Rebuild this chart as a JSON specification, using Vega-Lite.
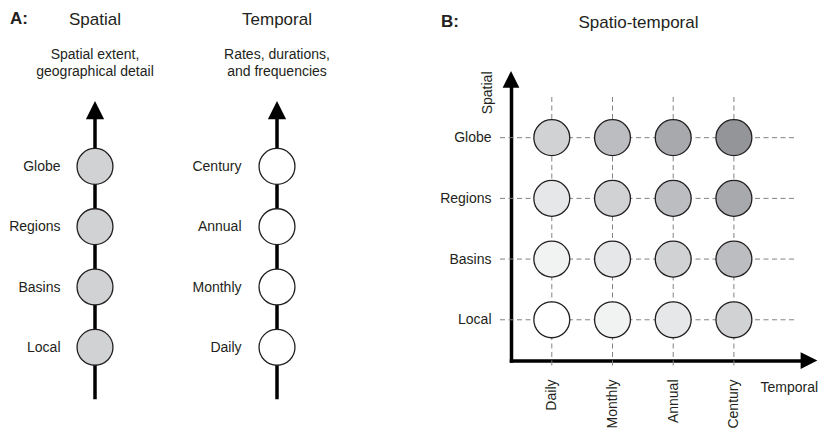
{
  "$schema": "https://vega.github.io/schema/vega-lite/v6.json",
  "padding": {"left": 5, "top": 9, "right": 0, "bottom": 0},
  "background": "#ffffff",
  "config": {
    "font": "Liberation Sans",
    "view": {"stroke": null},
    "title": {"fontSize": 17, "fontWeight": "normal", "color": "#231f20", "subtitleFontSize": 14, "subtitleColor": "#231f20", "subtitleLineHeight": 17, "subtitleFont": "Liberation Sans"},
    "axis": {"labelFontSize": 14, "labelColor": "#231f20", "ticks": false, "tickSize": 0, "grid": false, "domain": false, "titleFontSize": 14, "titleColor": "#231f20", "titleFontWeight": "normal"}
  },
  "spacing": 70,
  "hconcat": [
    {
      "title": {"text": "A:", "anchor": "start", "fontWeight": "bold", "offset": -17, "dx": 5},
      "spacing": 0,
      "hconcat": [
        {
          "width": 180,
          "height": 322.6,
          "title": {"text": "Spatial", "subtitle": ["Spatial extent,", "geographical detail"], "anchor": "middle", "frame": "group", "offset": 5.2, "subtitlePadding": 19.3},
          "layer": [
            {
              "data": {"values": [{"from": "top", "to": "bottom"}]},
              "mark": {"type": "rule", "strokeWidth": 3.5, "color": "#000000", "y2Offset": -8.3},
              "encoding": {
                "y": {"field": "from", "type": "nominal", "scale": {"type": "point", "domain": ["top", "Globe", "Regions", "Basins", "Local", "bottom"], "padding": 0.175, "align": 1}, "axis": {"orient": "left", "values": ["Globe", "Regions", "Basins", "Local"], "offset": -69, "labelPadding": 14, "title": null}},
                "y2": {"field": "to"}
              }
            },
            {
              "data": {"values": [{"level": "Globe"}, {"level": "Regions"}, {"level": "Basins"}, {"level": "Local"}]},
              "mark": {"type": "circle", "size": 1290, "fill": "#d1d2d4", "stroke": "#231f20", "strokeWidth": 1.3, "opacity": 1},
              "encoding": {"y": {"field": "level", "type": "nominal"}}
            },
            {
              "data": {"values": [{"level": "top"}]},
              "mark": {"type": "point", "shape": "M0,-1L-1,1L1,1Z", "size": 335, "filled": true, "color": "#000000", "opacity": 1, "yOffset": 4},
              "encoding": {"y": {"field": "level", "type": "nominal"}}
            }
          ]
        },
        {
          "width": 184,
          "height": 322.6,
          "title": {"text": "Temporal", "subtitle": ["Rates, durations,", "and frequencies"], "anchor": "middle", "frame": "group", "offset": 5.2, "subtitlePadding": 19.3},
          "layer": [
            {
              "data": {"values": [{"from": "top", "to": "bottom"}]},
              "mark": {"type": "rule", "strokeWidth": 3.5, "color": "#000000", "y2Offset": -8.3},
              "encoding": {
                "y": {"field": "from", "type": "nominal", "scale": {"type": "point", "domain": ["top", "Century", "Annual", "Monthly", "Daily", "bottom"], "padding": 0.175, "align": 1}, "axis": {"orient": "left", "values": ["Century", "Annual", "Monthly", "Daily"], "offset": -71, "labelPadding": 15, "title": null}},
                "y2": {"field": "to"}
              }
            },
            {
              "data": {"values": [{"level": "Century"}, {"level": "Annual"}, {"level": "Monthly"}, {"level": "Daily"}]},
              "mark": {"type": "circle", "size": 1290, "fill": "#ffffff", "stroke": "#231f20", "strokeWidth": 1.3, "opacity": 1},
              "encoding": {"y": {"field": "level", "type": "nominal"}}
            },
            {
              "data": {"values": [{"level": "top"}]},
              "mark": {"type": "point", "shape": "M0,-1L-1,1L1,1Z", "size": 335, "filled": true, "color": "#000000", "opacity": 1, "yOffset": 4},
              "encoding": {"y": {"field": "level", "type": "nominal"}}
            }
          ]
        }
      ]
    },
    {
      "title": {"text": "B:", "anchor": "start", "fontWeight": "bold", "offset": -17, "dx": 1.4},
      "hconcat": [
        {
          "width": 294,
          "height": 275.5,
          "title": {"text": "Spatio-temporal", "anchor": "middle", "frame": "group", "dx": -19.5, "offset": 39},
          "layer": [
            {
              "data": {"values": [{"spatial": "Globe"}, {"spatial": "Regions"}, {"spatial": "Basins"}, {"spatial": "Local"}]},
              "mark": {"type": "rule", "strokeDash": [5, 3.5], "color": "#808285", "strokeWidth": 1, "xOffset": -51.8},
              "encoding": {
                "y": {"field": "spatial", "type": "nominal", "scale": {"type": "point", "domain": ["Globe", "Regions", "Basins", "Local"], "padding": 0.7694, "align": 0.564}, "axis": {"orient": "left", "domain": true, "domainWidth": 3.5, "domainColor": "#000000", "domainCap": "square", "labelPadding": 20, "title": "Spatial", "titleAngle": 270, "titleX": -20, "titleY": -14, "titleAlign": "right", "titleBaseline": "alphabetic"}},
                "x": {"datum": "Daily", "type": "nominal", "scale": {"type": "point", "domain": ["Daily", "Monthly", "Annual", "Century", "end"], "padding": 0.4217, "align": 0.797}, "axis": {"orient": "bottom", "values": ["Daily", "Monthly", "Annual", "Century"], "domain": true, "domainWidth": 3.5, "domainColor": "#000000", "domainCap": "square", "labelAngle": 270, "labelPadding": 18.5, "title": "Temporal", "titleAngle": 0, "titleX": 249, "titleY": 30.5, "titleAlign": "left", "titleBaseline": "alphabetic"}},
                "x2": {"datum": "end"}
              }
            },
            {
              "data": {"values": [{"temporal": "Daily"}, {"temporal": "Monthly"}, {"temporal": "Annual"}, {"temporal": "Century"}]},
              "mark": {"type": "rule", "strokeDash": [5, 3.5], "color": "#808285", "strokeWidth": 1, "yOffset": -40.7, "y2Offset": 47.3},
              "encoding": {
                "x": {"field": "temporal", "type": "nominal"},
                "y": {"datum": "Globe", "type": "nominal"},
                "y2": {"datum": "Local"}
              }
            },
            {
              "data": {"values": [
                {"spatial": "Globe", "temporal": "Daily", "scale": 3},
                {"spatial": "Globe", "temporal": "Monthly", "scale": 4},
                {"spatial": "Globe", "temporal": "Annual", "scale": 5},
                {"spatial": "Globe", "temporal": "Century", "scale": 6},
                {"spatial": "Regions", "temporal": "Daily", "scale": 2},
                {"spatial": "Regions", "temporal": "Monthly", "scale": 3},
                {"spatial": "Regions", "temporal": "Annual", "scale": 4},
                {"spatial": "Regions", "temporal": "Century", "scale": 5},
                {"spatial": "Basins", "temporal": "Daily", "scale": 1},
                {"spatial": "Basins", "temporal": "Monthly", "scale": 2},
                {"spatial": "Basins", "temporal": "Annual", "scale": 3},
                {"spatial": "Basins", "temporal": "Century", "scale": 4},
                {"spatial": "Local", "temporal": "Daily", "scale": 0},
                {"spatial": "Local", "temporal": "Monthly", "scale": 1},
                {"spatial": "Local", "temporal": "Annual", "scale": 2},
                {"spatial": "Local", "temporal": "Century", "scale": 3}
              ]},
              "mark": {"type": "circle", "size": 1290, "stroke": "#231f20", "strokeWidth": 1.3, "opacity": 1},
              "encoding": {
                "x": {"field": "temporal", "type": "nominal"},
                "y": {"field": "spatial", "type": "nominal"},
                "fill": {"field": "scale", "type": "ordinal", "scale": {"domain": [0, 1, 2, 3, 4, 5, 6], "range": ["#ffffff", "#f1f2f2", "#e6e7e8", "#d1d2d4", "#bcbdc0", "#a7a9ac", "#939598"]}, "legend": null}
              }
            },
            {
              "data": {"values": [{"dimension": "Spatial"}]},
              "mark": {"type": "point", "shape": "M0,-1L-1,1L1,1Z", "size": 279, "filled": true, "color": "#000000", "opacity": 1, "xOffset": -40.8, "yOffset": -58.35},
              "encoding": {"x": {"datum": "Daily", "type": "nominal"}, "y": {"datum": "Globe", "type": "nominal"}}
            },
            {
              "data": {"values": [{"dimension": "Temporal"}]},
              "mark": {"type": "point", "shape": "M1,0L-1,-1L-1,1Z", "size": 279, "filled": true, "color": "#000000", "opacity": 1, "xOffset": 14.4, "yOffset": 40.8},
              "encoding": {"x": {"datum": "end", "type": "nominal"}, "y": {"datum": "Local", "type": "nominal"}}
            }
          ]
        }
      ]
    }
  ]
}
